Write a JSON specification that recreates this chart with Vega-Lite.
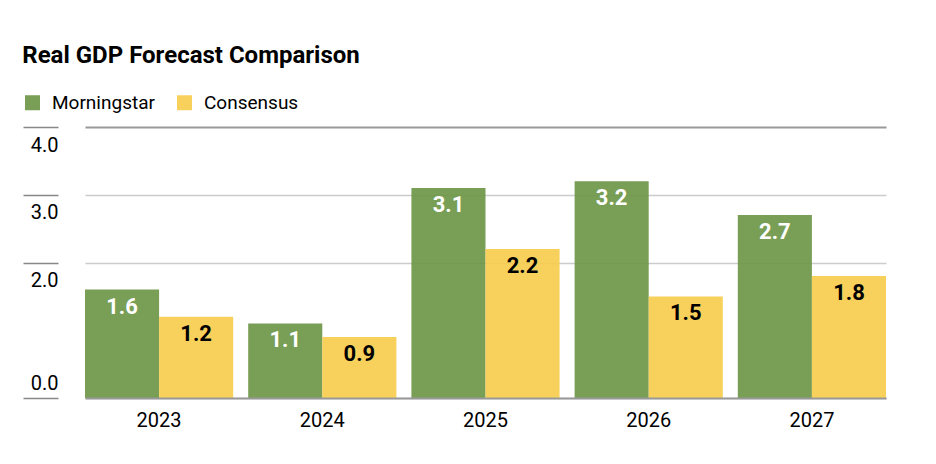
{
  "$schema": "https://vega.github.io/schema/vega-lite/v6.json",
  "width": 801,
  "height": 271,
  "padding": {"left": 22, "top": 44, "right": 51, "bottom": 10},
  "background": "white",
  "title": {
    "text": "Real GDP Forecast Comparison",
    "anchor": "start",
    "frame": "bounds",
    "font": "Roboto",
    "fontSize": 24,
    "fontWeight": "bold",
    "color": "#000000",
    "offset": 25
  },
  "config": {
    "font": "Roboto",
    "view": {"stroke": null}
  },
  "data": {
    "values": [
      {"year": "2023", "series": "Morningstar", "value": 1.6},
      {"year": "2023", "series": "Consensus", "value": 1.2},
      {"year": "2024", "series": "Morningstar", "value": 1.1},
      {"year": "2024", "series": "Consensus", "value": 0.9},
      {"year": "2025", "series": "Morningstar", "value": 3.1},
      {"year": "2025", "series": "Consensus", "value": 2.2},
      {"year": "2026", "series": "Morningstar", "value": 3.2},
      {"year": "2026", "series": "Consensus", "value": 1.5},
      {"year": "2027", "series": "Morningstar", "value": 2.7},
      {"year": "2027", "series": "Consensus", "value": 1.8}
    ]
  },
  "encoding": {
    "x": {
      "field": "year",
      "type": "nominal",
      "scale": {"paddingInner": 0.092, "paddingOuter": 0},
      "axis": {
        "title": null,
        "labelAngle": 0,
        "labelFontSize": 20,
        "labelColor": "#000000",
        "labelPadding": 12,
        "ticks": false,
        "domain": true,
        "domainColor": "#999999",
        "domainWidth": 2,
        "grid": false,
        "zindex": 1
      }
    },
    "xOffset": {
      "field": "series",
      "type": "nominal",
      "sort": ["Morningstar", "Consensus"],
      "scale": {"paddingInner": 0, "paddingOuter": 0}
    },
    "y": {
      "field": "value",
      "type": "quantitative",
      "scale": {"domain": [0, 4], "nice": false},
      "axis": {
        "title": null,
        "values": [0, 2, 3, 4],
        "format": ".1f",
        "offset": 27,
        "tickSize": 35,
        "tickColor": "#888888",
        "tickWidth": 1.5,
        "domain": false,
        "labelAlign": "right",
        "labelBaseline": {"condition": {"test": "datum.value === 0", "value": "bottom"}, "value": "top"},
        "labelPadding": -35,
        "labelOffset": {"condition": {"test": "datum.value === 0", "value": -5}, "value": 8},
        "labelFontSize": 20,
        "labelColor": "#000000",
        "grid": true,
        "gridColor": {"condition": {"test": "datum.value === 4", "value": "#999999"}, "value": "#cccccc"},
        "gridWidth": {"condition": {"test": "datum.value === 4", "value": 2}, "value": 1.5}
      }
    }
  },
  "layer": [
    {
      "mark": {"type": "bar", "opacity": 0.92},
      "encoding": {
        "color": {
          "field": "series",
          "type": "nominal",
          "sort": ["Morningstar", "Consensus"],
          "scale": {"domain": ["Morningstar", "Consensus"], "range": ["#6E9648", "#F7CD4E"]},
          "legend": {
            "title": null,
            "orient": "none",
            "legendX": -62,
            "legendY": -34,
            "direction": "horizontal",
            "symbolType": "square",
            "symbolSize": 225,
            "symbolStrokeWidth": 0,
            "symbolOpacity": 0.92,
            "labelFontSize": 19,
            "labelColor": "#000000",
            "labelOffset": 10,
            "columnPadding": 20
          }
        }
      }
    },
    {
      "mark": {"type": "text", "baseline": "top", "dy": 7, "fontSize": 22, "fontWeight": "bold"},
      "encoding": {
        "text": {"field": "value", "type": "quantitative", "format": ".1f"},
        "color": {
          "condition": {"test": "datum.series === 'Morningstar'", "value": "#ffffff"},
          "value": "#000000"
        }
      }
    }
  ]
}
